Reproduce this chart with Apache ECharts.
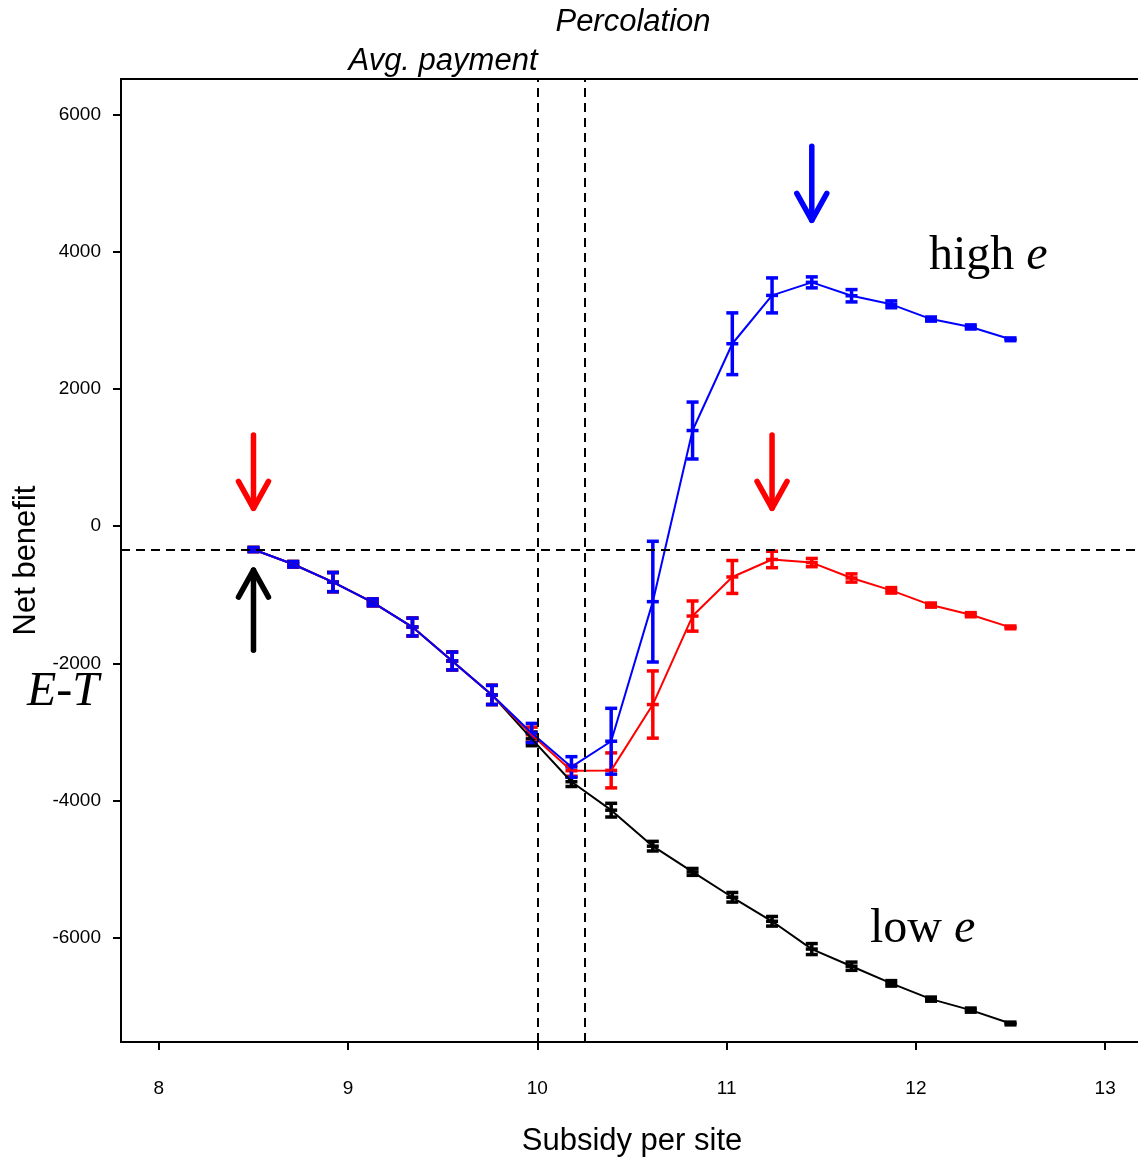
<!DOCTYPE html>
<html><head><meta charset="utf-8">
<script src="https://cdn.jsdelivr.net/npm/echarts@6/dist/echarts.min.js"></script>
<style>html,body{margin:0;padding:0;background:#fff}#c{width:1138px;height:1157px}</style>
</head><body><div id="c"></div>
<script>
// ---- data ----
const subsidy = [8.5, 8.71, 8.92, 9.13, 9.34, 9.55, 9.76, 9.97, 10.18, 10.39, 10.61, 10.82, 11.03, 11.24, 11.45, 11.66, 11.87, 12.08, 12.29, 12.5];
const highMean = [-340, -555, -815, -1110, -1470, -1965, -2460, -3015, -3510, -3135, -1100, 1395, 2660, 3365, 3555, 3360, 3235, 3020, 2905, 2725];
const highErr  = [30, 40, 140, 50, 130, 130, 140, 140, 150, 480, 880, 415, 450, 255, 80, 90, 50, 30, 30, 20];
const midMean  = [-340, -555, -815, -1110, -1470, -1965, -2460, -3040, -3565, -3560, -2600, -1310, -740, -485, -530, -755, -935, -1150, -1290, -1475];
const midErr   = [30, 40, 140, 50, 130, 130, 140, 110, 80, 255, 490, 220, 240, 120, 60, 60, 40, 30, 30, 20];
const lowMean  = [-340, -555, -815, -1110, -1470, -1965, -2460, -3100, -3725, -4140, -4665, -5040, -5410, -5760, -6165, -6415, -6665, -6895, -7055, -7250];
const lowErr   = [30, 40, 140, 50, 130, 130, 140, 100, 70, 100, 70, 50, 70, 70, 80, 60, 40, 30, 30, 20];
const xTicks = [8, 9, 10, 11, 12, 13];
const yTicks = [-6000, -4000, -2000, 0, 2000, 4000, 6000];
const refX = [10, 10.25];
const refY = -340;
const arrowX    = [8.5, 8.5, 11.24, 11.45];
const arrowFrom = [1330, -1810, 1330, 5540];
const arrowTo   = [260, -640, 260, 4460];
const arrowColor = ['#ff0000', '#000000', '#ff0000', '#0000ff'];

// ---- chart ----
const FONT = '"Liberation Sans", Arial, sans-serif';
const SERIF = '"Liberation Serif", "Times New Roman", serif';

function lineSeries(mean, color, w) {
  return { type: 'line', data: subsidy.map((x, i) => [x, mean[i]]), symbol: 'none',
    lineStyle: { color: color, width: w }, silent: true, animation: false };
}
function errSeries(mean, err, color) {
  return {
    type: 'custom', animation: false, silent: true,
    data: subsidy.map((x, i) => [x, mean[i] - err[i], mean[i] + err[i], mean[i]]),
    encode: { x: 0, y: [1, 2, 3] },
    renderItem: function (params, api) {
      const x = api.value(0);
      const lo = api.coord([x, api.value(1)]);
      const hi = api.coord([x, api.value(2)]);
      const md = api.coord([x, api.value(3)]);
      const w = 6, st = { stroke: color, lineWidth: 3.5 };
      const seg = (x1, y1, x2, y2) => ({ type: 'line', shape: { x1, y1, x2, y2 }, style: st });
      return { type: 'group', children: [
        seg(lo[0], lo[1], hi[0], hi[1]),
        seg(lo[0] - w, lo[1], lo[0] + w, lo[1]),
        seg(hi[0] - w, hi[1], hi[0] + w, hi[1]),
        seg(md[0] - w, md[1], md[0] + w, md[1])
      ] };
    }
  };
}

const arrowSeries = {
  type: 'custom', animation: false, silent: true,
  data: arrowX.map((x, i) => [x, arrowFrom[i], arrowTo[i]]),
  encode: { x: 0, y: [1, 2] },
  renderItem: function (params, api) {
    const x = api.value(0);
    const tail = api.coord([x, api.value(1)]);
    const tip = api.coord([x, api.value(2)]);
    const dir = tip[1] > tail[1] ? 1 : -1;
    const col = arrowColor[params.dataIndex];
    const st = { stroke: col, lineWidth: 5.5, lineCap: 'round', lineJoin: 'round', fill: null };
    return { type: 'group', children: [
      { type: 'line', shape: { x1: tail[0], y1: tail[1], x2: tip[0], y2: tip[1] }, style: st },
      { type: 'polyline', shape: { points: [[tip[0] - 15, tip[1] - dir * 27], [tip[0], tip[1]], [tip[0] + 15, tip[1] - dir * 27]] }, style: st }
    ] };
  }
};

const refSeries = {
  type: 'line', data: [], silent: true, animation: false,
  markLine: {
    silent: true, symbol: 'none', animation: false,
    label: { show: false },
    lineStyle: { color: '#000', width: 2, type: [9, 6] },
    data: refX.map(v => ({ xAxis: v })).concat([{ yAxis: refY }])
  }
};

const chart = echarts.init(document.getElementById('c'), null, { renderer: 'canvas' });
chart.setOption({
  backgroundColor: '#fff',
  animation: false,
  grid: { left: 121, top: 79, right: -5, bottom: 115, show: true, borderColor: '#000', borderWidth: 2,
    backgroundColor: 'transparent', outerBoundsMode: 'none', containLabel: false },
  xAxis: {
    type: 'value', min: 7.8, max: 13.2,
    name: 'Subsidy per site', nameLocation: 'middle', nameGap: 84,
    nameTextStyle: { fontSize: 31, fontFamily: FONT, color: '#000' },
    axisLine: { show: true, onZero: false, lineStyle: { color: '#000', width: 2 } },
    axisTick: { show: true, length: 8, lineStyle: { color: '#000', width: 2 }, customValues: xTicks },
    axisLabel: { customValues: xTicks, fontSize: 19, fontFamily: FONT, color: '#000', margin: 37, formatter: v => String(v) },
    splitLine: { show: false }
  },
  yAxis: {
    type: 'value', min: -7520, max: 6520,
    name: 'Net benefit', nameLocation: 'middle', nameGap: 76, nameRotate: 90,
    nameTextStyle: { fontSize: 31, fontFamily: FONT, color: '#000' },
    axisLine: { show: true, onZero: false, lineStyle: { color: '#000', width: 2 } },
    axisTick: { show: true, length: 8, lineStyle: { color: '#000', width: 2 }, customValues: yTicks },
    axisLabel: { customValues: yTicks, fontSize: 19, fontFamily: FONT, color: '#000', margin: 20, formatter: v => String(v) },
    splitLine: { show: false }
  },
  graphic: [
    { type: 'text', x: 633, y: 22, style: { text: 'Percolation', fontSize: 31, fontStyle: 'italic', fontFamily: FONT, fill: '#000', align: 'center', verticalAlign: 'middle' } },
    { type: 'text', x: 443, y: 61, style: { text: 'Avg. payment', fontSize: 31, fontStyle: 'italic', fontFamily: FONT, fill: '#000', align: 'center', verticalAlign: 'middle' } },
    { type: 'text', x: 929, y: 256, style: { text: 'high {i|e}', fontSize: 48, fontFamily: SERIF, fill: '#000', align: 'left', verticalAlign: 'middle',
        rich: { i: { fontSize: 48, fontFamily: SERIF, fontStyle: 'italic', fill: '#000' } } } },
    { type: 'text', x: 870, y: 929, style: { text: 'low {i|e}', fontSize: 48, fontFamily: SERIF, fill: '#000', align: 'left', verticalAlign: 'middle',
        rich: { i: { fontSize: 48, fontFamily: SERIF, fontStyle: 'italic', fill: '#000' } } } },
    { type: 'text', x: 27, y: 692, style: { text: 'E-T', fontSize: 48, fontStyle: 'italic', fontFamily: SERIF, fill: '#000', align: 'left', verticalAlign: 'middle' } }
  ],
  series: [
    refSeries,
    lineSeries(lowMean, '#000000', 2),
    errSeries(lowMean, lowErr, '#000000'),
    lineSeries(midMean, '#ff0000', 2),
    errSeries(midMean, midErr, '#ff0000'),
    lineSeries(highMean, '#0000ff', 2),
    errSeries(highMean, highErr, '#0000ff'),
    arrowSeries
  ]
});
</script>
</body></html>
